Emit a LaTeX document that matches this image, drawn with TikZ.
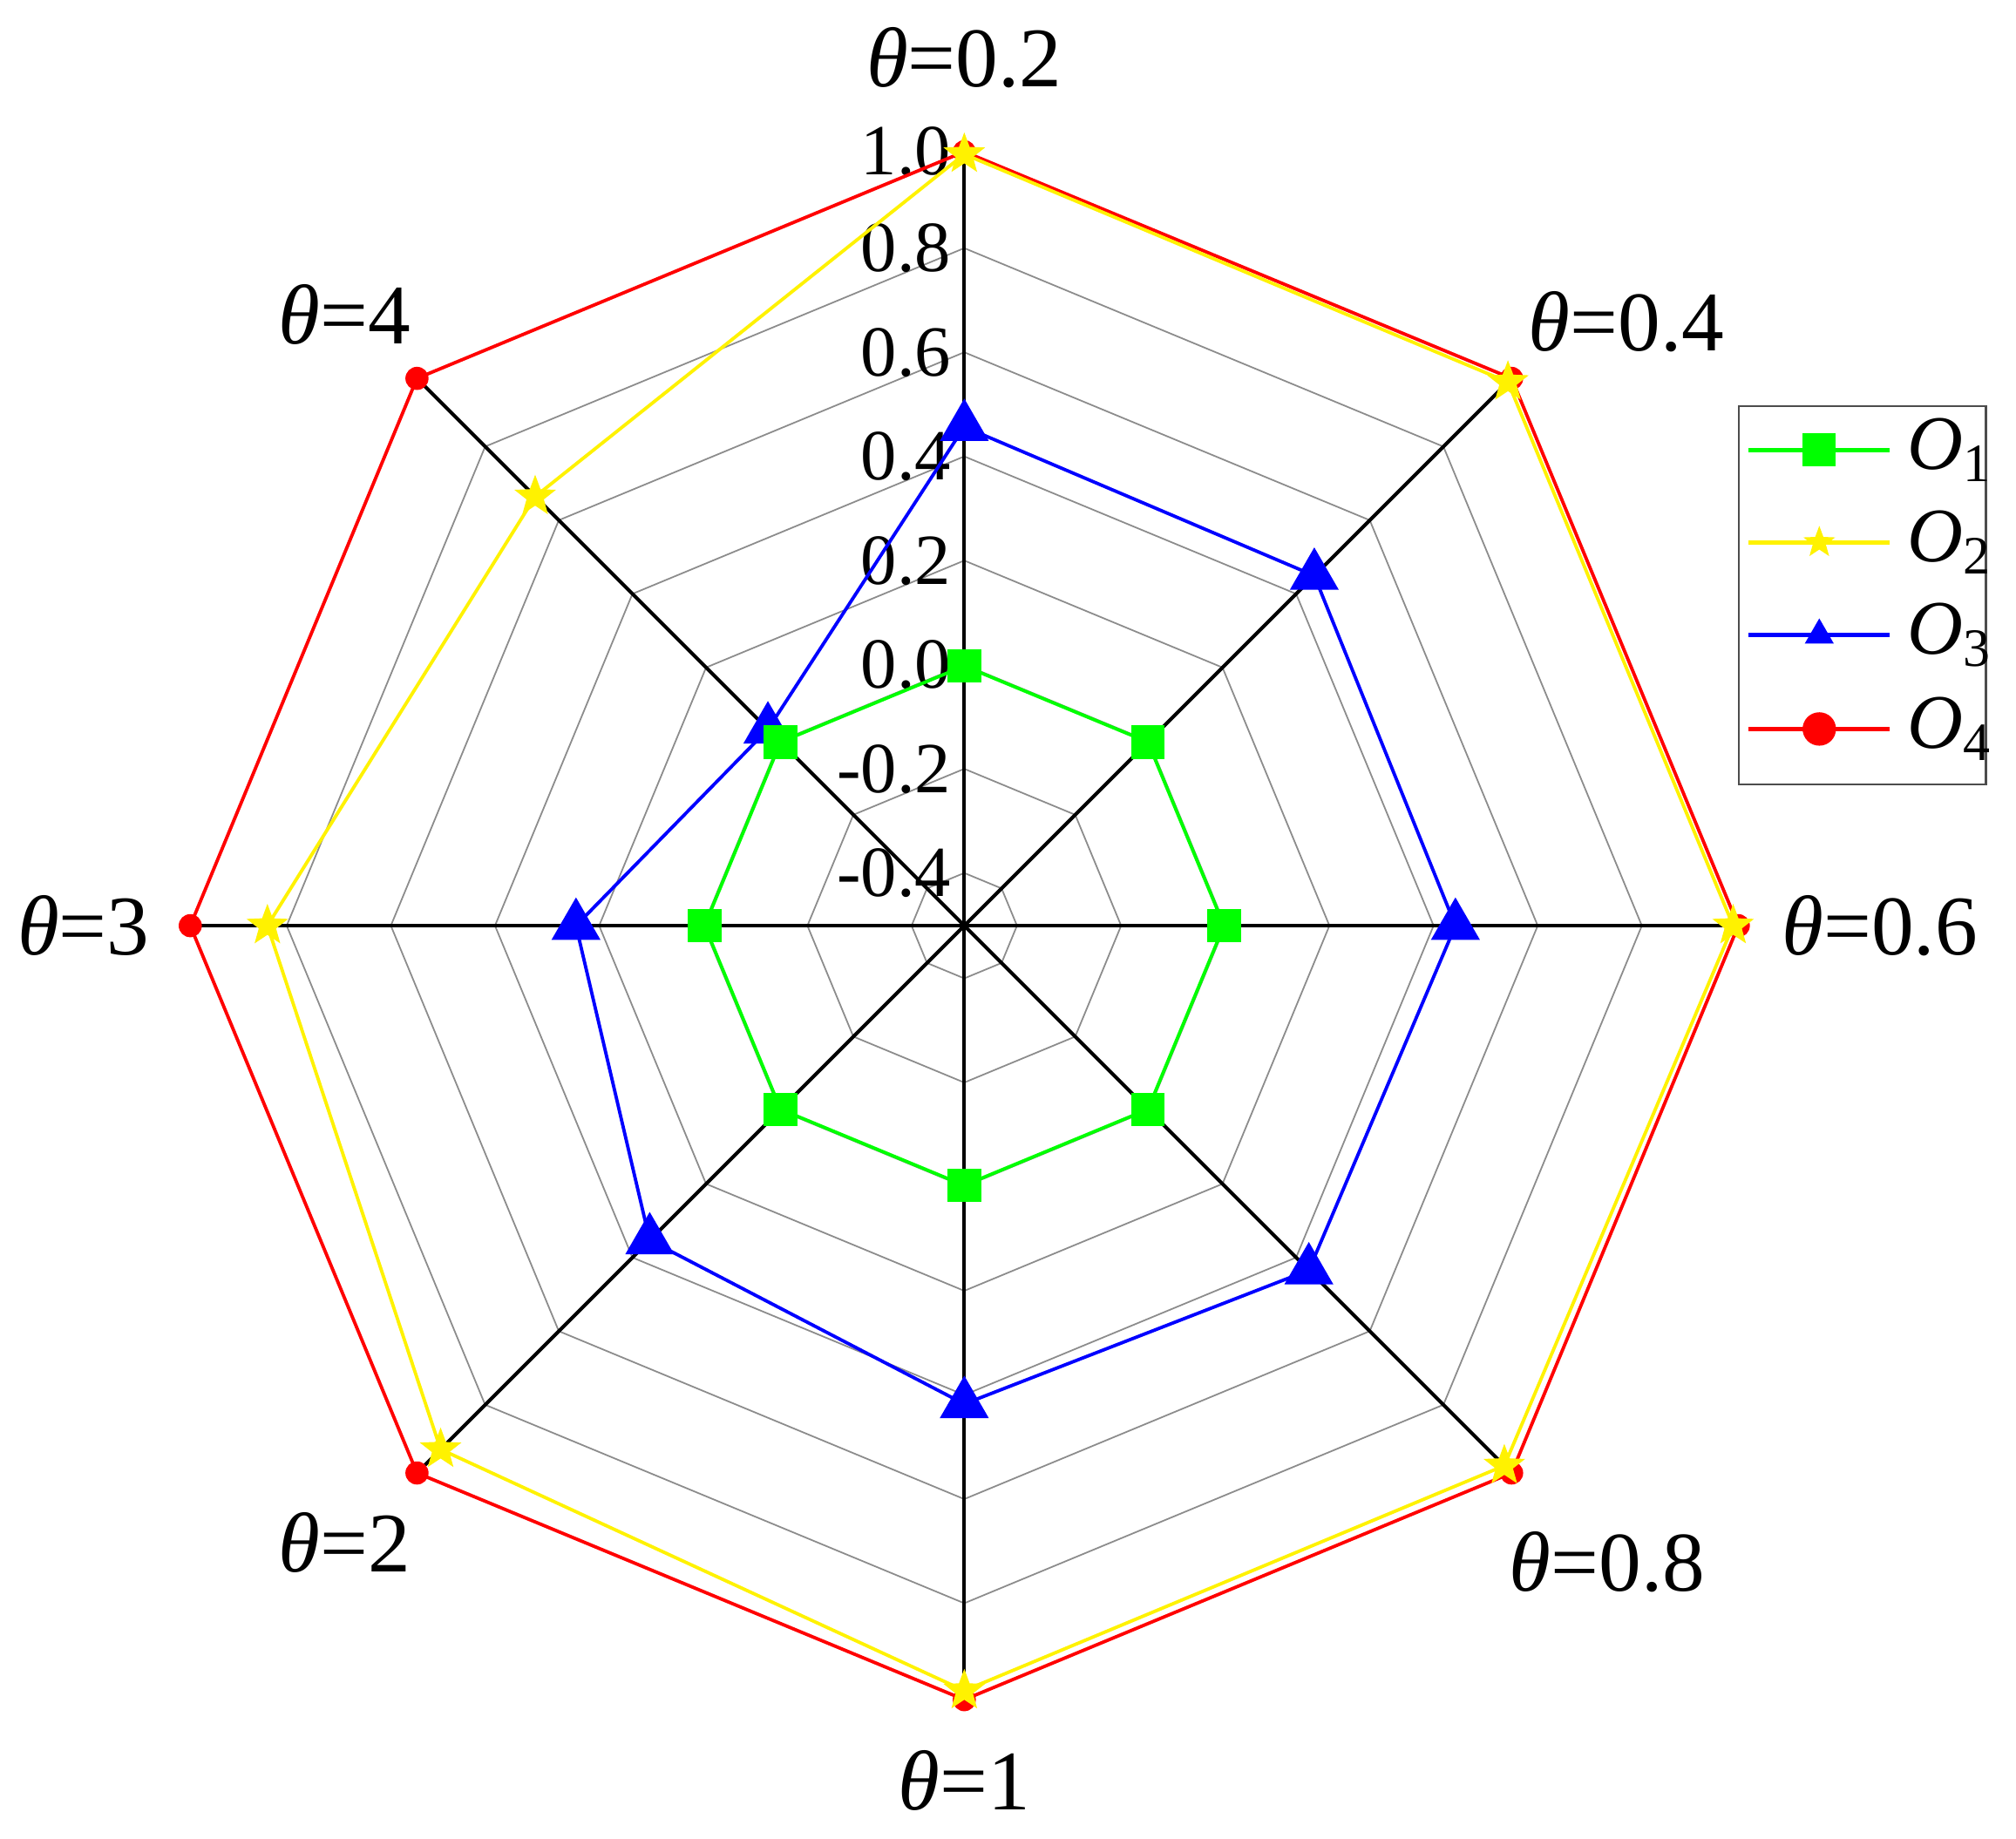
\documentclass[tikz,border=0pt]{standalone}
\usepackage{fontspec}
\setmainfont{Liberation Serif}
\usetikzlibrary{shapes.geometric}
\newcommand{\mytheta}{\textit{θ}}
\begin{document}
\begin{tikzpicture}[x=0.5pt,y=0.5pt,
  grid/.style={draw=gray!90,line width=0.6pt},
  axis/.style={draw=black,line width=1.4pt},
  sq/.style={rectangle,fill=green,draw=none,minimum size=13pt,inner sep=0pt},
  st/.style={star,star points=5,star point ratio=2.4,fill=yellow,draw=none,minimum size=17pt,inner sep=0pt},
  tri/.style={regular polygon,regular polygon sides=3,fill=blue,draw=none,minimum size=22pt,inner sep=0pt},
  dot/.style={circle,fill=red,draw=none,minimum size=9pt,inner sep=0pt},
  tl/.style={font=\fontsize{28}{30}\selectfont,anchor=east,inner sep=0pt},
  thl/.style={font=\fontsize{33}{36}\selectfont,inner sep=0pt}]
\useasboundingbox[fill=white] (-750,720) rectangle (818,-710);
% grid rings
\foreach \r in {41,122,203,284,365,446,527,602}{
  \draw[grid] (90:\r)--(45:\r)--(0:\r)--(-45:\r)--(-90:\r)--(-135:\r)--(180:\r)--(135:\r)--cycle;}
% axes
\coordinate (c) at (0,0);
\foreach \a [count=\i] in {90,45,0,-45,-90,-135,180,135}{
  \coordinate (e\i) at (\a:602);
  \draw[axis] (c)--(e\i);}
% tick labels
\foreach \v/\r in {1.0/602,0.8/527,0.6/446,0.4/365,0.2/284,0.0/203,-0.2/122,-0.4/41}{
  \node[tl] (t\r) at (-10,\r) {\v};}
% theta labels
\node[thl] (l1) at (0,675) {\mytheta=0.2};
\node[thl] (l2) at (515,470) {\mytheta=0.4};
\node[thl] (l3) at (712,0) {\mytheta=0.6};
\node[thl] (l4) at (500,-495) {\mytheta=0.8};
\node[thl] (l5) at (0,-665) {\mytheta=1};
\node[thl] (l6) at (-482,-480) {\mytheta=2};
\node[thl] (l7) at (-685,0) {\mytheta=3};
\node[thl] (l8) at (-482,475) {\mytheta=4};
% O4 red
\foreach \a/\r [count=\i] in {90/602,45/602,0/602,-45/602,-90/602,-135/602,180/602,135/602}{
  \coordinate (d\i) at (\a:\r);}
\draw[red,line width=1.3pt] (d1)--(d2)--(d3)--(d4)--(d5)--(d6)--(d7)--(d8)--cycle;
\foreach \i in {1,...,8}{\node[dot] (md\i) at (d\i) {};}
% O2 yellow
\foreach \a/\r [count=\i] in {90/600,45/598,0/598,-45/594,-90/595,-135/576,180/542,135/472}{
  \coordinate (s\i) at (\a:\r);}
\draw[yellow,line width=1.3pt] (s1)--(s2)--(s3)--(s4)--(s5)--(s6)--(s7)--(s8)--cycle;
\foreach \i in {1,...,8}{\node[st] (ms\i) at (s\i) {};}
% O3 blue
\foreach \a/\r [count=\i] in {90/388,45/385,0/382,-45/379,-90/372,-135/346,180/302,135/216}{
  \coordinate (b\i) at (\a:\r);}
\draw[blue,line width=1.3pt] (b1)--(b2)--(b3)--(b4)--(b5)--(b6)--(b7)--(b8)--cycle;
\foreach \i in {1,...,8}{\node[tri] (mb\i) at (b\i) {};}
% O1 green
\foreach \a [count=\i] in {90,45,0,-45,-90,-135,180,135}{
  \coordinate (g\i) at (\a:202);}
\draw[green,line width=1.3pt] (g1)--(g2)--(g3)--(g4)--(g5)--(g6)--(g7)--(g8)--cycle;
\foreach \i in {1,...,8}{\node[sq] (mg\i) at (g\i) {};}
% legend
\node[draw=gray!60!black,line width=0.8pt,minimum width=96pt,minimum height=147pt,inner sep=0pt] (leg) at (698.5,257) {};
\foreach \col/\sty/\n/\y in {green/sq/1/370,yellow/st/2/298,blue/tri/3/226,red/dot/4/153}{
  \coordinate (la\n) at (610,\y); \coordinate (lb\n) at (720,\y);
  \draw[\col,line width=1.6pt] (la\n)--(lb\n);
  \node[\sty,minimum size=13pt] (lm\n) at (665,\y) {};
  \node[font=\fontsize{30}{32}\selectfont,anchor=west,inner sep=0pt] (lt\n) at (733,\y) {\textit{O}\raisebox{-0.35ex}{\fontsize{21}{21}\selectfont\n}};}
\end{tikzpicture}
\end{document}
